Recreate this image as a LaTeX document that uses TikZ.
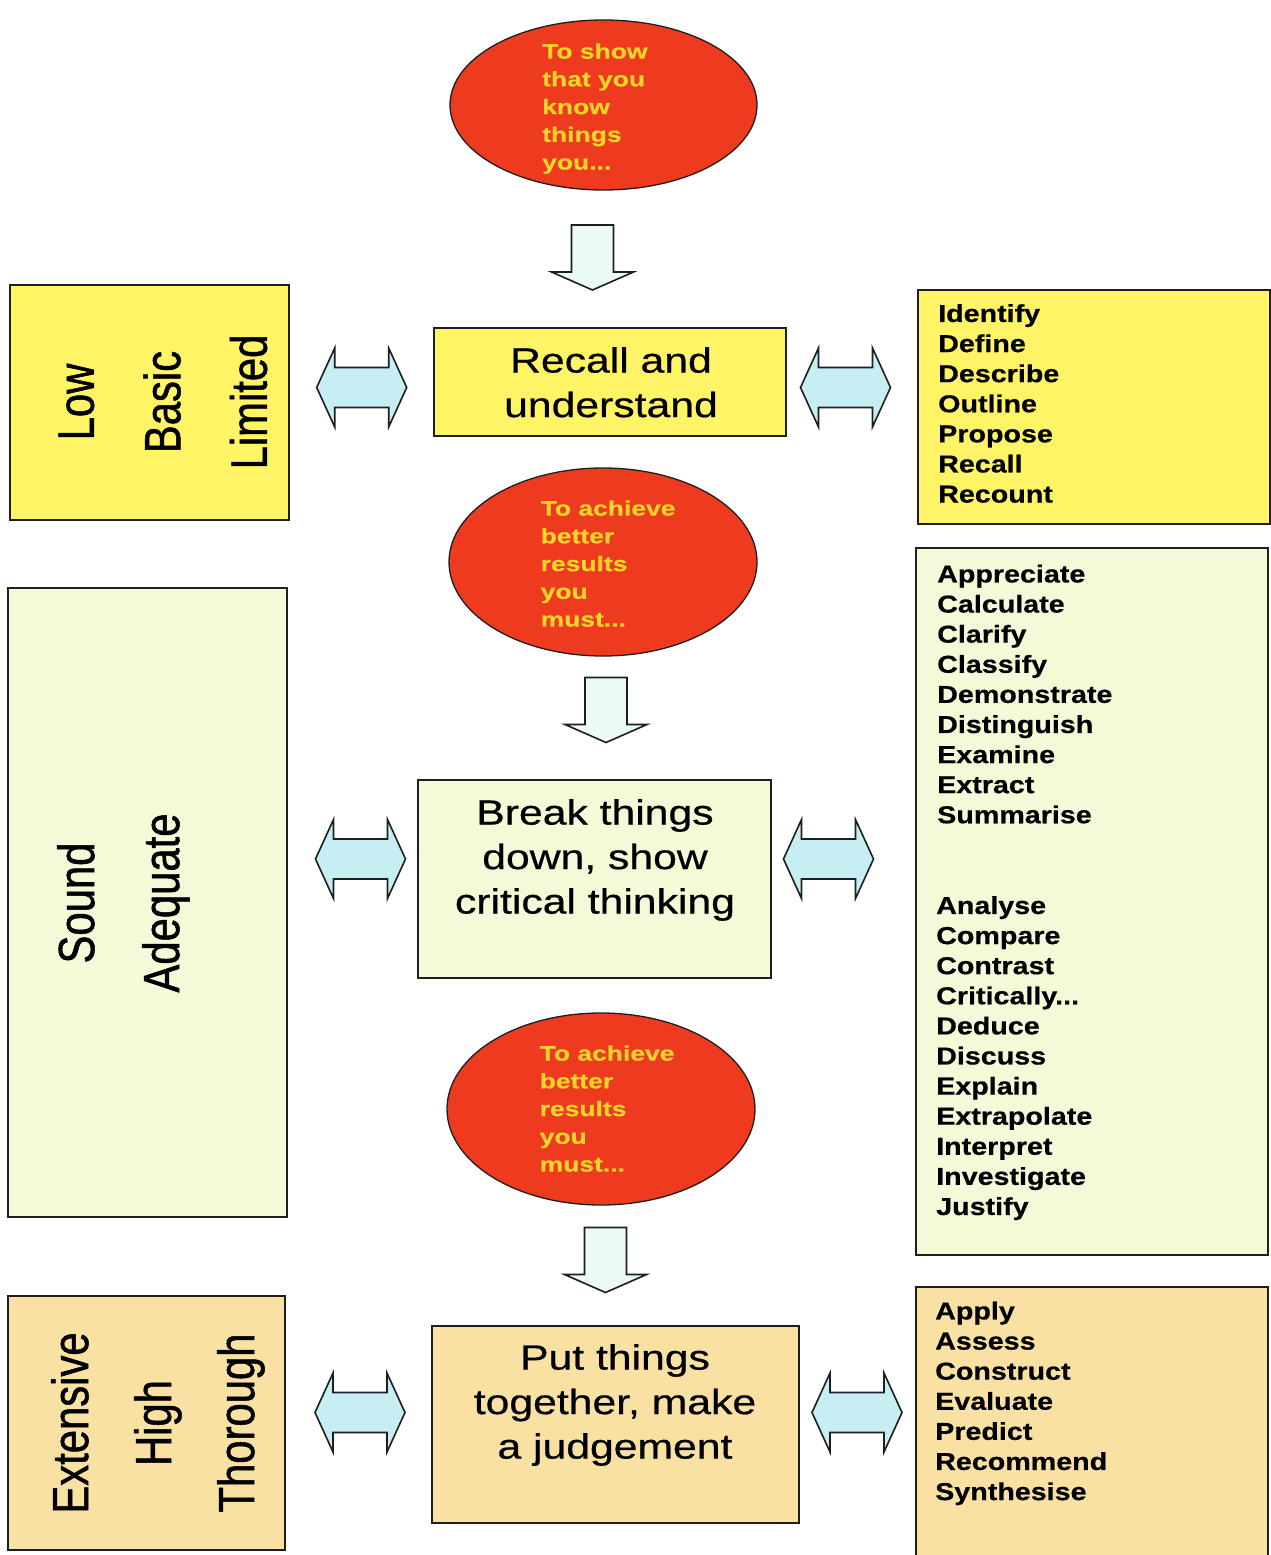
\documentclass[tikz,border=0pt]{standalone}
\usepackage{fontspec}
\setmainfont{Liberation Sans}
\newfontfamily\boxfont[FakeStretch=1.22,FakeBold=0.6]{Liberation Sans}
\newfontfamily\listfont[FakeStretch=1.17,FakeBold=0.5]{Liberation Sans}
\newfontfamily\ellfont[FakeStretch=1.26,FakeBold=0.4]{Liberation Sans}
\newfontfamily\rotfont[FakeStretch=0.82,FakeBold=1.0]{Liberation Sans}
\usetikzlibrary{shapes.geometric}
\definecolor{yel}{HTML}{FFF466}
\definecolor{grn}{HTML}{F4F9D7}
\definecolor{tan}{HTML}{F8E1A3}
\definecolor{ellred}{HTML}{EE3A1E}
\definecolor{elltext}{HTML}{F5D52A}
\definecolor{linec}{HTML}{1E1E1E}
\definecolor{cyanfill}{HTML}{C6EEF3}
\definecolor{downfill}{HTML}{EBF9F7}
\tikzset{
  box/.style={rectangle, draw=linec, line width=1.5pt, inner sep=0pt, anchor=center},
  ell/.style={ellipse, draw=linec, line width=1.3pt, fill=ellred, inner sep=0pt},
  ltext/.style={anchor=north west, align=left, inner sep=0pt, text=black,
    font=\listfont\bfseries\fontsize{24.5}{30.1}\selectfont},
  etext/.style={anchor=north west, align=left, inner sep=0pt, text=elltext,
    font=\ellfont\bfseries\fontsize{21}{27.75}\selectfont},
  ctext/.style={anchor=north, align=center, inner sep=0pt, text=black,
    font=\boxfont\fontsize{35}{44.5}\selectfont},
  rtext/.style={anchor=north, rotate=90, align=center, inner sep=0pt, text=black},
  dblsty/.style={draw=linec, line width=1.6pt, fill=cyanfill, line join=miter},
  downsty/.style={draw=linec, line width=1.6pt, fill=downfill, line join=miter},
  dblarrow/.pic={\draw[dblsty] (-45,0) -- (-27,-39.5) -- (-27,-20) -- (27,-20) -- (27,-39.5) -- (45,0) -- (27,39.5) -- (27,20) -- (-27,20) -- (-27,39.5) -- cycle;},
  downarrow/.pic={\draw[downsty] (-21,0) -- (21,0) -- (21,47) -- (41,47) -- (0,65) -- (-41,47) -- (-21,47) -- cycle;}
}
\begin{document}
\begin{tikzpicture}[x=1pt,y=-1pt]
\useasboundingbox (0,0) rectangle (1271,1555);
\fill[white] (0,0) rectangle (1271,1555);

% ellipses
\node[ell, minimum width=307pt, minimum height=170pt] (E1) at (603.5,105) {};
\node[ell, minimum width=308pt, minimum height=188pt] (E2) at (603,562) {};
\node[ell, minimum width=308pt, minimum height=192pt] (E3) at (601,1109) {};
\node[etext] (E1t) at (542,43.2) {To show\\that you\\know\\things\\you...};
\node[etext] (E2t) at (540.5,500.2) {To achieve\\better\\results\\you\\must...};
\node[etext] (E3t) at (539.5,1045.2) {To achieve\\better\\results\\you\\must...};

% centre boxes
\node[box, fill=yel, minimum width=352pt, minimum height=108pt] (C1) at (610,382) {};
\node[box, fill=grn, minimum width=353pt, minimum height=198pt] (C2) at (594.5,879) {};
\node[box, fill=tan, minimum width=367pt, minimum height=197pt] (C3) at (615.5,1424.5) {};
\node[ctext] (C1t) at (611,347) {Recall and\\understand};
\node[ctext] (C2t) at (595,799) {Break things\\down, show\\critical thinking};
\node[ctext] (C3t) at (615,1344) {Put things\\together, make\\a judgement};

% left boxes
\node[box, fill=yel, minimum width=279pt, minimum height=235pt] (L1) at (149.5,402.5) {};
\node[box, fill=grn, minimum width=279pt, minimum height=629pt] (L2) at (147.5,902.5) {};
\node[box, fill=tan, minimum width=277pt, minimum height=254pt] (L3) at (146.5,1423) {};
\node[rtext, font=\rotfont\fontsize{51}{86.5}\selectfont] (L1t) at (58.5,402) {Low\\Basic\\Limited};
\node[rtext, font=\rotfont\fontsize{51}{85}\selectfont] (L2t) at (57,903) {Sound\\Adequate};
\node[rtext, font=\rotfont\fontsize{51}{83}\selectfont] (L3t) at (51,1423) {Extensive\\High\\Thorough};

% right boxes
\node[box, fill=yel, minimum width=352pt, minimum height=234pt] (R1) at (1094,407) {};
\node[box, fill=grn, minimum width=352pt, minimum height=707pt] (R2) at (1092,901.5) {};
\node[box, fill=tan, minimum width=352pt, minimum height=270pt] (R3) at (1092,1422) {};
\node[ltext] (R1t) at (938,304) {Identify\\Define\\Describe\\Outline\\Propose\\Recall\\Recount};
\node[ltext] (R2at) at (937,564.5) {Appreciate\\Calculate\\Clarify\\Classify\\Demonstrate\\Distinguish\\Examine\\Extract\\Summarise};
\node[ltext] (R2bt) at (936,896) {Analyse\\Compare\\Contrast\\Critically...\\Deduce\\Discuss\\Explain\\Extrapolate\\Interpret\\Investigate\\Justify};
\node[ltext] (R3t) at (935,1301.5) {Apply\\Assess\\Construct\\Evaluate\\Predict\\Recommend\\Synthesise};

% arrow positions
\coordinate (D1) at (592.5,225);
\coordinate (D2) at (606,677.5);
\coordinate (D3) at (605.5,1227.5);
\coordinate (H1l) at (361.7,387.5);
\coordinate (H1r) at (845.5,387.5);
\coordinate (H2l) at (360.5,859);
\coordinate (H2r) at (828.5,859);
\coordinate (H3l) at (360,1412.5);
\coordinate (H3r) at (857,1412.5);

\pic at (D1) {downarrow};
\pic at (D2) {downarrow};
\pic at (D3) {downarrow};
\pic at (H1l) {dblarrow};
\pic at (H1r) {dblarrow};
\pic at (H2l) {dblarrow};
\pic at (H2r) {dblarrow};
\pic at (H3l) {dblarrow};
\pic at (H3r) {dblarrow};
\end{tikzpicture}
\end{document}
